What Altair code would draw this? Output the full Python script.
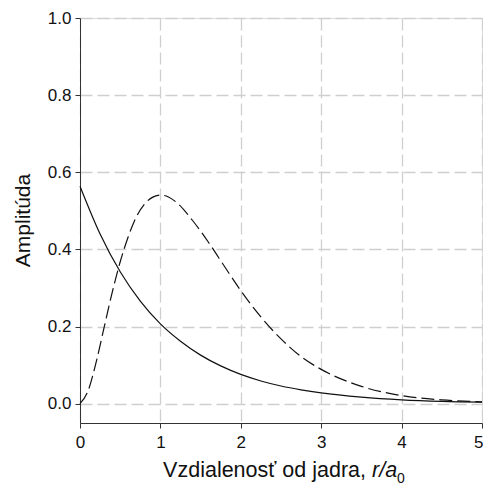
import altair as alt
import pandas as pd

# Solid curve: amplitude
r_solid = [0.0, 0.25, 0.5, 0.75, 1.0, 1.25, 1.5, 1.75, 2.0, 2.25, 2.5, 2.75, 3.0, 3.5, 4.0, 4.5, 5.0]
y_solid = [0.564, 0.440, 0.342, 0.266, 0.207, 0.162, 0.126, 0.098, 0.076, 0.059, 0.046, 0.036, 0.028, 0.017, 0.010, 0.006, 0.004]

# Dashed curve: radial distribution
r_dash = [0.0, 0.1, 0.2, 0.3, 0.4, 0.5, 0.6, 0.7, 0.8, 0.9, 1.0, 1.1, 1.2, 1.4, 1.6, 1.8, 2.0, 2.25, 2.5, 2.75, 3.0, 3.5, 4.0, 4.5, 5.0]
y_dash = [0.0, 0.033, 0.107, 0.198, 0.288, 0.368, 0.433, 0.484, 0.517, 0.535, 0.541, 0.536, 0.522, 0.475, 0.418, 0.355, 0.293, 0.225, 0.168, 0.122, 0.089, 0.045, 0.021, 0.010, 0.005]

x_ticks = [0, 1, 2, 3, 4, 5]
y_ticks = [0.0, 0.2, 0.4, 0.6, 0.8, 1.0]

FONT = "Liberation Sans"

df_s = pd.DataFrame({"r": r_solid, "y": y_solid})
df_d = pd.DataFrame({"r": r_dash, "y": y_dash})

x_enc = alt.X("r:Q", scale=alt.Scale(domain=[0, 5], nice=False, zero=False),
              axis=alt.Axis(values=x_ticks, format="d", title=None, grid=True,
                            gridDash=[12, 5], gridColor="#cfcfcf", gridWidth=1.3,
                            tickSize=5, tickColor="#333", domainColor="#333",
                            labelFontSize=17, labelFont=FONT, labelColor="#111",
                            labelPadding=6, labelFlush=False,
                            labelAlign={"condition": {"test": "datum.value == 5", "value": "right"},
                                        "value": "center"},
                            labelOffset={"condition": {"test": "datum.value == 5", "value": 1},
                                         "value": 0}))
y_enc = alt.Y("y:Q", scale=alt.Scale(domain=[-0.05, 1.0], nice=False, zero=False),
              axis=alt.Axis(values=y_ticks, format=".1f", title="Amplitúda", grid=True,
                            gridDash=[12, 5], gridColor="#cfcfcf", gridWidth=1.3,
                            tickSize=5, tickColor="#333", domainColor="#333",
                            labelFontSize=17, labelFont=FONT, labelColor="#111",
                            labelPadding=4, labelFlush=False,
                            titleFontSize=21, titleFont=FONT, titleFontWeight="normal",
                            titleColor="#111", titleX=-57, titleY=202, titleBaseline="middle",
                            titleAngle=-90, titleAlign="center"))

solid = alt.Chart(df_s).mark_line(color="#111", strokeWidth=1.2, interpolate="monotone").encode(x=x_enc, y=y_enc)
dashed = alt.Chart(df_d).mark_line(color="#111", strokeWidth=1.2, strokeDash=[13, 5], interpolate="monotone").encode(x=x_enc, y=y_enc)

t1 = alt.Chart(pd.DataFrame({"t": ["Vzdialenosť od jadra,"]})).mark_text(
    font=FONT, fontSize=21.5, align="right", baseline="alphabetic", color="#111"
).encode(text="t:N", x=alt.value(286), y=alt.value(459))
t2 = alt.Chart(pd.DataFrame({"t": ["r/a"]})).mark_text(
    font=FONT, fontSize=21.5, fontStyle="italic", align="left", baseline="alphabetic", color="#111"
).encode(text="t:N", x=alt.value(292), y=alt.value(459))
t3 = alt.Chart(pd.DataFrame({"t": ["0"]})).mark_text(
    font=FONT, fontSize=14, align="left", baseline="alphabetic", color="#111"
).encode(text="t:N", x=alt.value(317), y=alt.value(465))

chart = alt.layer(solid, dashed, t1, t2, t3).properties(
    width=402, height=405,
    autosize=alt.AutoSizeParams(type="none"),
    padding={"left": 72, "top": 10, "right": 1, "bottom": 62},
).configure_view(stroke="#222", strokeWidth=1.2).configure(background="white")

chart.save("out.html", embed_options={"renderer": "svg", "actions": False})
